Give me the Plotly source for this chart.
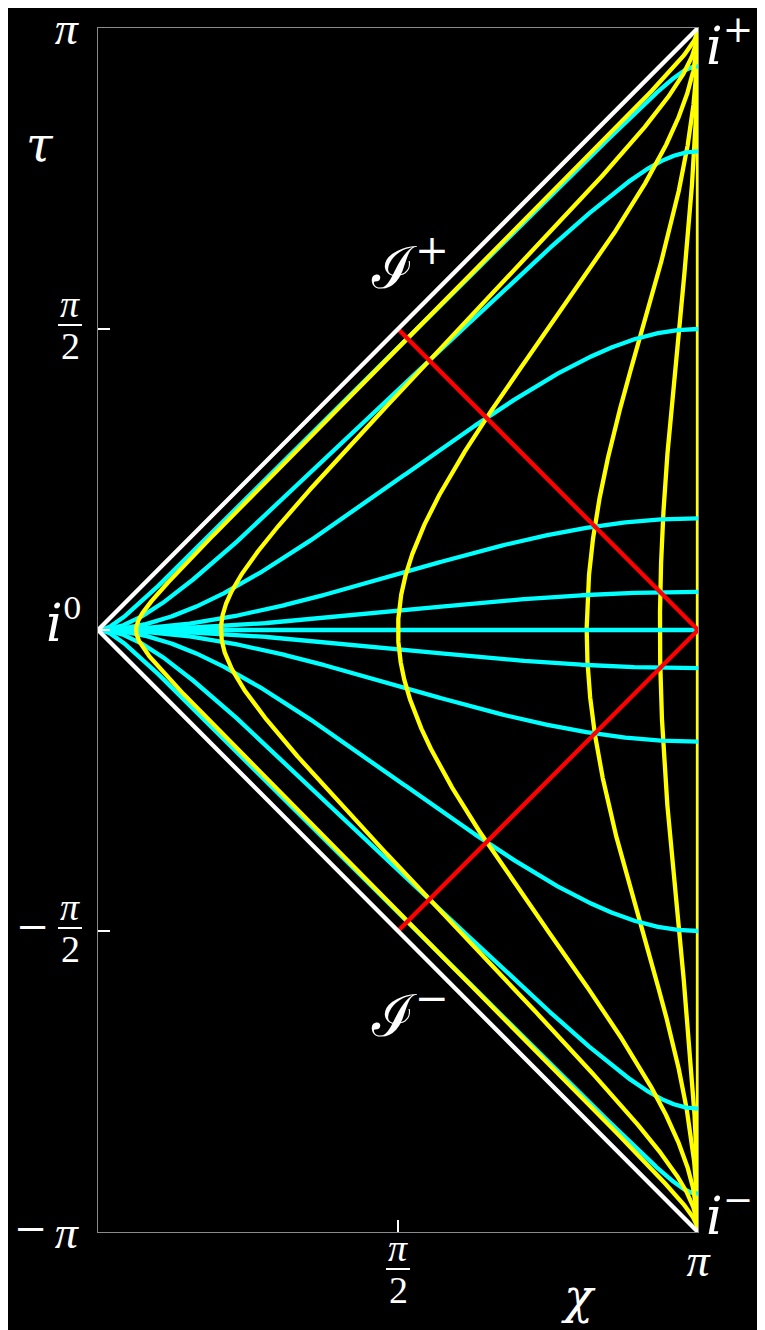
import numpy as np
import plotly.graph_objects as go

PI = np.pi

# Parameter values of the drawn curves
t_values = [-10, -3, -1, -0.3, -0.1, 0, 0.1, 0.3, 1, 3, 10]   # constant-time slices (cyan)
r_first = [0.1, 0.3]                                           # constant-radius worldlines drawn beneath cyan
r_last = [1, 3, 10]                                            # constant-radius worldlines drawn over cyan

# Tick positions/labels
x_tickvals = [PI]
x_ticktext = ["<i>π</i>"]
x_minor = [0, PI / 2]
y_tickvals = [-PI, PI]
y_ticktext = ["<i>π</i>", "<i>π</i>"]
y_minor = [-PI / 2, 0, PI / 2]

# Null rays (red) and conformal boundary (white)
ray_chi = [PI / 2, PI, PI / 2]
ray_tau = [PI / 2, 0, -PI / 2]
scri_chi = [PI, 0, PI]
scri_tau = [PI, 0, -PI]


def penrose(t, r):
    U = np.arctan(t - r)
    V = np.arctan(t + r)
    return PI - (V - U), V + U


s_half = np.linspace(0, PI / 2 - 1e-7, 1500)
s_full = np.linspace(-PI / 2 + 1e-7, PI / 2 - 1e-7, 3000)

fig = go.Figure()
CYAN = "#00FFFF"
YEL = "#FFFF00"
LW = 4.3


def add_r(r):
    x, y = penrose(np.tan(s_full), r)
    fig.add_trace(go.Scatter(x=x, y=y, mode="lines", line=dict(color=YEL, width=LW), hoverinfo="skip"))


def add_t(t):
    x, y = penrose(t, np.tan(s_half))
    fig.add_trace(go.Scatter(x=x, y=y, mode="lines", line=dict(color=CYAN, width=LW), hoverinfo="skip"))


fig.add_trace(go.Scatter(x=[PI, PI], y=[-PI, PI], mode="lines", line=dict(color=YEL, width=LW), hoverinfo="skip"))
for r in r_first:
    add_r(r)
for t in t_values:
    add_t(t)
for r in r_last:
    add_r(r)
fig.add_trace(go.Scatter(x=ray_chi, y=ray_tau, mode="lines", line=dict(color="#FF0000", width=LW), hoverinfo="skip"))
fig.add_trace(go.Scatter(x=scri_chi, y=scri_tau, mode="lines", line=dict(color="white", width=LW), hoverinfo="skip"))

SERIF = "Liberation Serif"
ISERIF = "DejaVu Serif"
tick_common = dict(ticks="inside", ticklen=12, tickcolor="white", tickwidth=1.5)
axis_common = dict(
    showgrid=False, zeroline=False, showline=True, linecolor="#8a8a8a", linewidth=1.2,
    mirror=True, ticklabeloverflow="allow", automargin=False,
    tickfont=dict(family=SERIF, size=46, color="white"), **tick_common,
)

# Plot area: 600 x 1204 px; the page body adds an 8px offset
L, T, PW, PH = 90, 20, 600, 1204
fig.update_layout(
    width=L + PW + 67, height=T + PH + 98,
    margin=dict(l=L, r=67, t=T, b=98, autoexpand=False),
    paper_bgcolor="black", plot_bgcolor="black",
    showlegend=False,
    xaxis=dict(range=[0, PI], tickvals=x_tickvals, ticktext=x_ticktext, ticklabelstandoff=-12,
               minor=dict(tickvals=x_minor, **tick_common), **axis_common),
    yaxis=dict(range=[-PI, PI], tickvals=y_tickvals, ticktext=y_ticktext, ticklabelstandoff=10,
               minor=dict(tickvals=y_minor, **tick_common), **axis_common),
)


def px(p):  # horizontal page pixel (reference) -> paper fraction
    return (p - 98) / PW


def py(p):  # vertical page pixel (reference) -> paper fraction
    return (1232 - p) / PH


ann = []
shapes = []
FR = 38


def text(xp, yp, s, size, font=SERIF, yanchor="middle"):
    ann.append(dict(x=px(xp), y=py(yp), xref="paper", yref="paper", text=s, showarrow=False,
                    font=dict(family=font, size=size, color="white"),
                    xanchor="center", yanchor=yanchor, borderpad=0))


def bar(x0, x1, yp):
    shapes.append(dict(type="line", xref="paper", yref="paper", x0=px(x0), x1=px(x1),
                       y0=py(yp), y1=py(yp), line=dict(color="white", width=2)))


def frac(xc, ybar):
    text(xc, ybar + 1, "<i>π</i>", FR, yanchor="bottom")
    bar(xc - 12, xc + 12, ybar)
    text(xc, ybar - 1, "2", FR, yanchor="top")


frac(70, 325)      # y = pi/2
frac(70, 928)      # y = -pi/2
text(33, 926, "−", 40, ISERIF)
text(31, 1228, "−", 40, ISERIF)   # y = -pi
frac(398, 1269)    # x = pi/2

# axis titles
text(40, 144, "<i>τ</i>", 48, ISERIF)
text(578, 1296, "<i>χ</i>", 48, ISERIF)

# special points
text(64, 622, "<i>i</i><sup><span style='font-size:30px'>0</span></sup>", 52, ISERIF)
text(730, 42, "<i>i</i><sup>+</sup>", 52, ISERIF)
text(730, 1212, "<i>i</i><sup>−</sup>", 52, ISERIF)
text(410, 264, "ℐ<sup>+</sup>", 58, ISERIF)
text(410, 1012, "ℐ<sup>−</sup>", 58, ISERIF)

fig.update_layout(annotations=ann, shapes=shapes)

fig.write_html("out.html")
